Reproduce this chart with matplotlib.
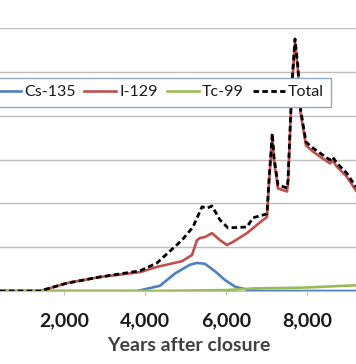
import matplotlib
matplotlib.use("Agg")
import matplotlib.pyplot as plt

plt.rcParams['font.family'] = ['Lato', 'DejaVu Sans']

# years after closure and relative dose contribution per nuclide
cs_years = [420, 3800, 3950, 4370, 4740, 5111, 5284, 5481, 5728, 5975, 6222, 6518, 6840, 9210]
cs_vals = [0.0, 0.0, 0.03, 0.12, 0.40, 0.60, 0.64, 0.62, 0.45, 0.25, 0.10, 0.03, 0.0, 0.0]

i_years = [420, 1407, 2074, 2889, 3876, 4296, 4913, 5160, 5284, 5358, 5481, 5654, 5852,
           6024, 6173, 6518, 6765, 7012, 7061, 7143, 7185, 7284, 7506, 7531, 7629, 7704,
           7778, 7844, 7975, 8148, 8395, 8568, 8634, 8733, 8980, 9210]
i_vals = [0.0, 0.0, 0.18, 0.32, 0.43, 0.55, 0.68, 0.82, 1.16, 1.21, 1.23, 1.32, 1.16,
          1.05, 1.12, 1.32, 1.51, 1.69, 2.45, 3.52, 2.98, 2.34, 2.27, 2.45, 4.67, 5.68,
          5.02, 4.05, 3.32, 3.18, 3.02, 2.91, 2.98, 2.84, 2.61, 2.29]

tc_years = [420, 4000, 5000, 6000, 6700, 7500, 8000, 8700, 9210]
tc_vals = [0.0, 0.0, 0.01, 0.02, 0.06, 0.07, 0.08, 0.11, 0.13]

tot_years = [420, 1407, 2074, 2889, 3876, 4296, 4913, 5185, 5407, 5531, 5654, 5852, 6049,
             6518, 6666, 7012, 7061, 7143, 7185, 7284, 7506, 7531, 7629, 7704, 7778, 7844,
             7975, 8148, 8395, 8568, 8634, 8733, 8980, 9210]
tot_vals = [0.0, 0.0, 0.18, 0.32, 0.46, 0.64, 1.16, 1.46, 1.92, 1.89, 1.94, 1.62, 1.44,
            1.46, 1.67, 1.76, 2.53, 3.60, 3.06, 2.42, 2.35, 2.53, 4.75, 5.75, 5.10, 4.13,
            3.40, 3.26, 3.10, 2.99, 3.06, 2.92, 2.69, 2.37]

xticks = [2000, 4000, 6000, 8000]
xtick_labels = ['2,000', '4,000', '6,000', '8,000']

fig = plt.figure(figsize=(3.56, 3.64), dpi=100)
ax = fig.add_axes([0.0, 73 / 364, 1.0, 263 / 364])

ax.plot(cs_years, cs_vals, color='#4F81BD', lw=1.9, label='Cs-135')
ax.plot(i_years, i_vals, color='#C0504D', lw=1.9, label='I-129')
ax.plot(tc_years, tc_vals, color='#9BBB59', lw=1.9, label='Tc-99')
ax.plot(tot_years, tot_vals, color='black', lw=2.0, ls=(0, (2.0, 1.2)), label='Total')

ax.set_xlim(420, 9210)
ax.set_ylim(0, 6)
ax.set_yticks([1, 2, 3, 4, 5, 6])
ax.yaxis.grid(True, color='#BFBFBF', lw=1.0)
ax.set_axisbelow(True)
ax.tick_params(axis='y', left=False, labelleft=False)
for s in ['top', 'left', 'right']:
    ax.spines[s].set_visible(False)
ax.spines['bottom'].set_color('#BFBFBF')

ax.set_xticks(xticks)
ax.set_xticklabels(xtick_labels, fontsize=14, fontweight='bold', color='#1a1a1a')
ax.tick_params(axis='x', direction='out', length=3, color='#BFBFBF', pad=12)

ax.set_xlabel('Years after closure', fontsize=14, fontweight='bold', color='#404040')
ax.xaxis.set_label_coords(188.5 / 356, -46 / 263)

leg = ax.legend(ncol=4, loc='upper right', bbox_to_anchor=(331 / 356, 1 - 78 / 364),
                bbox_transform=fig.transFigure, borderaxespad=0, fontsize=11.5,
                handlelength=2.0, handletextpad=0.2, columnspacing=0.55,
                borderpad=0.45, fancybox=False, framealpha=1)
leg.get_frame().set_edgecolor('#8EA9C8')
leg.get_frame().set_linewidth(1.0)
for t in leg.get_texts():
    t.set_color('#1a1a1a')

fig.savefig('out.png', dpi=100)
